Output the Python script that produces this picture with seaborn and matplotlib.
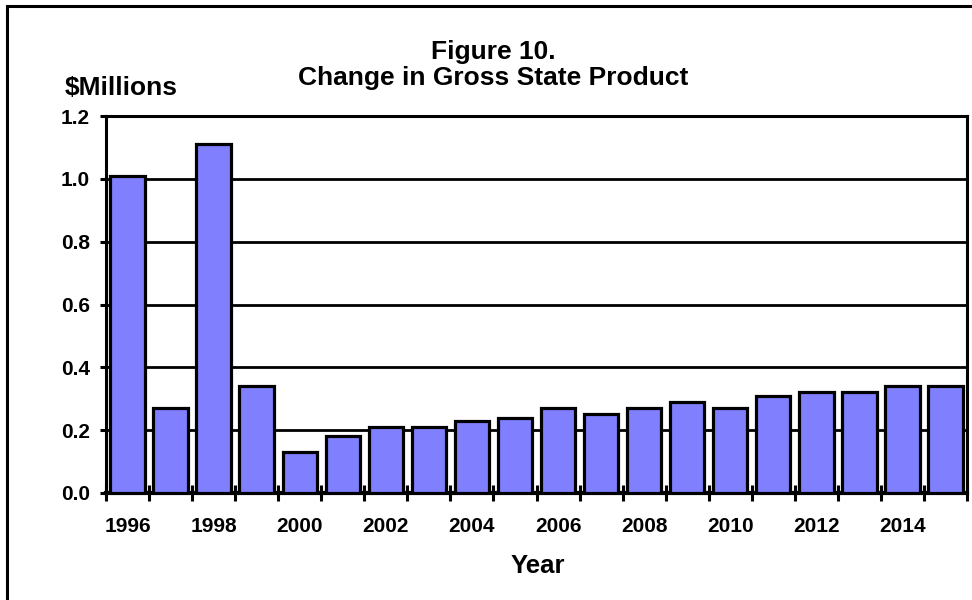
import matplotlib
matplotlib.use("Agg")
import matplotlib.pyplot as plt
from matplotlib.patches import Rectangle
import numpy as np
import pandas as pd
import seaborn as sns

# Annual change in gross state product, $ millions
years = [1996, 1997, 1998, 1999, 2000, 2001, 2002, 2003, 2004, 2005,
         2006, 2007, 2008, 2009, 2010, 2011, 2012, 2013, 2014, 2015]
change = [1.01, 0.27, 1.11, 0.34, 0.13, 0.18, 0.21, 0.21, 0.23, 0.24,
          0.27, 0.25, 0.27, 0.29, 0.27, 0.31, 0.32, 0.32, 0.34, 0.34]
y_ticks = [0.0, 0.2, 0.4, 0.6, 0.8, 1.0, 1.2]

title_lines = ["Figure 10.", "Change in Gross State Product"]
y_title = "$Millions"
x_title = "Year"

sns.set_style("white")
plt.rcParams["font.family"] = ["Liberation Sans", "DejaVu Sans"]
plt.rcParams["font.weight"] = "bold"
plt.rcParams["text.color"] = "black"
plt.rcParams["axes.labelcolor"] = "black"
plt.rcParams["xtick.color"] = "black"
plt.rcParams["ytick.color"] = "black"

df = pd.DataFrame({"year": [str(y) for y in years], "change": change})

fig = plt.figure(figsize=(9.72, 6.0), dpi=100)
ax = fig.add_axes([106 / 972, 1 - 493 / 600, (967 - 106) / 972, (493 - 116) / 600])

sns.barplot(data=df, x="year", y="change", color="#8080FF", saturation=1,
            width=0.8, edgecolor="black", linewidth=2.3, ax=ax, zorder=3)

ax.set_ylim(0, 1.2)
ax.set_xlim(-0.5, len(years) - 0.5)
ax.set_yticks(y_ticks)
ax.set_yticklabels([f"{v:.1f}" for v in y_ticks])

# Tick marks sit between categories; labels on every other year
ax.set_xticks(np.arange(len(years) + 1) - 0.5)
ax.set_xticklabels([])
ax.set_xticks(np.arange(0, len(years), 2), minor=True)
ax.set_xticklabels([str(y) for y in years[::2]], minor=True)
ax.tick_params(axis="x", which="major", direction="inout", length=11,
               width=2.2, colors="black", bottom=True)
ax.tick_params(axis="x", which="minor", length=0, pad=17, labelsize=15,
               labelcolor="black")
ax.tick_params(axis="y", direction="out", length=4.5, width=2.2,
               colors="black", left=True, pad=7, labelsize=15)
for lab in ax.get_xticklabels(minor=True) + ax.get_yticklabels():
    lab.set_fontweight("bold")
    lab.set_color("black")

ax.set_axisbelow(True)
ax.yaxis.grid(True, color="black", linewidth=2.0)
ax.xaxis.grid(False)
for side in ["left", "right", "top"]:
    ax.spines[side].set_color("black")
    ax.spines[side].set_linewidth(2.2)
ax.spines["bottom"].set_color("black")
ax.spines["bottom"].set_linewidth(3.0)
ax.set_xlabel("")
ax.set_ylabel("")

fig.text(493 / 972, 1 - 52 / 600, title_lines[0], ha="center", va="center",
         fontsize=19, fontweight="bold", color="black")
fig.text(493 / 972, 1 - 78 / 600, title_lines[1], ha="center", va="center",
         fontsize=19, fontweight="bold", color="black")
fig.text(65 / 972, 1 - 88 / 600, y_title, ha="left", va="center",
         fontsize=19, fontweight="bold", color="black")
fig.text(538 / 972, 1 - 566 / 600, x_title, ha="center", va="center",
         fontsize=18.5, fontweight="bold", color="black")

# Chart-area border
fig.add_artist(Rectangle((7 / 972, -0.05), 1.2, 1 - 6 / 600 + 0.05,
                         transform=fig.transFigure, fill=False,
                         edgecolor="black", linewidth=2.2, clip_on=False))

fig.savefig("out.png", dpi=100)
